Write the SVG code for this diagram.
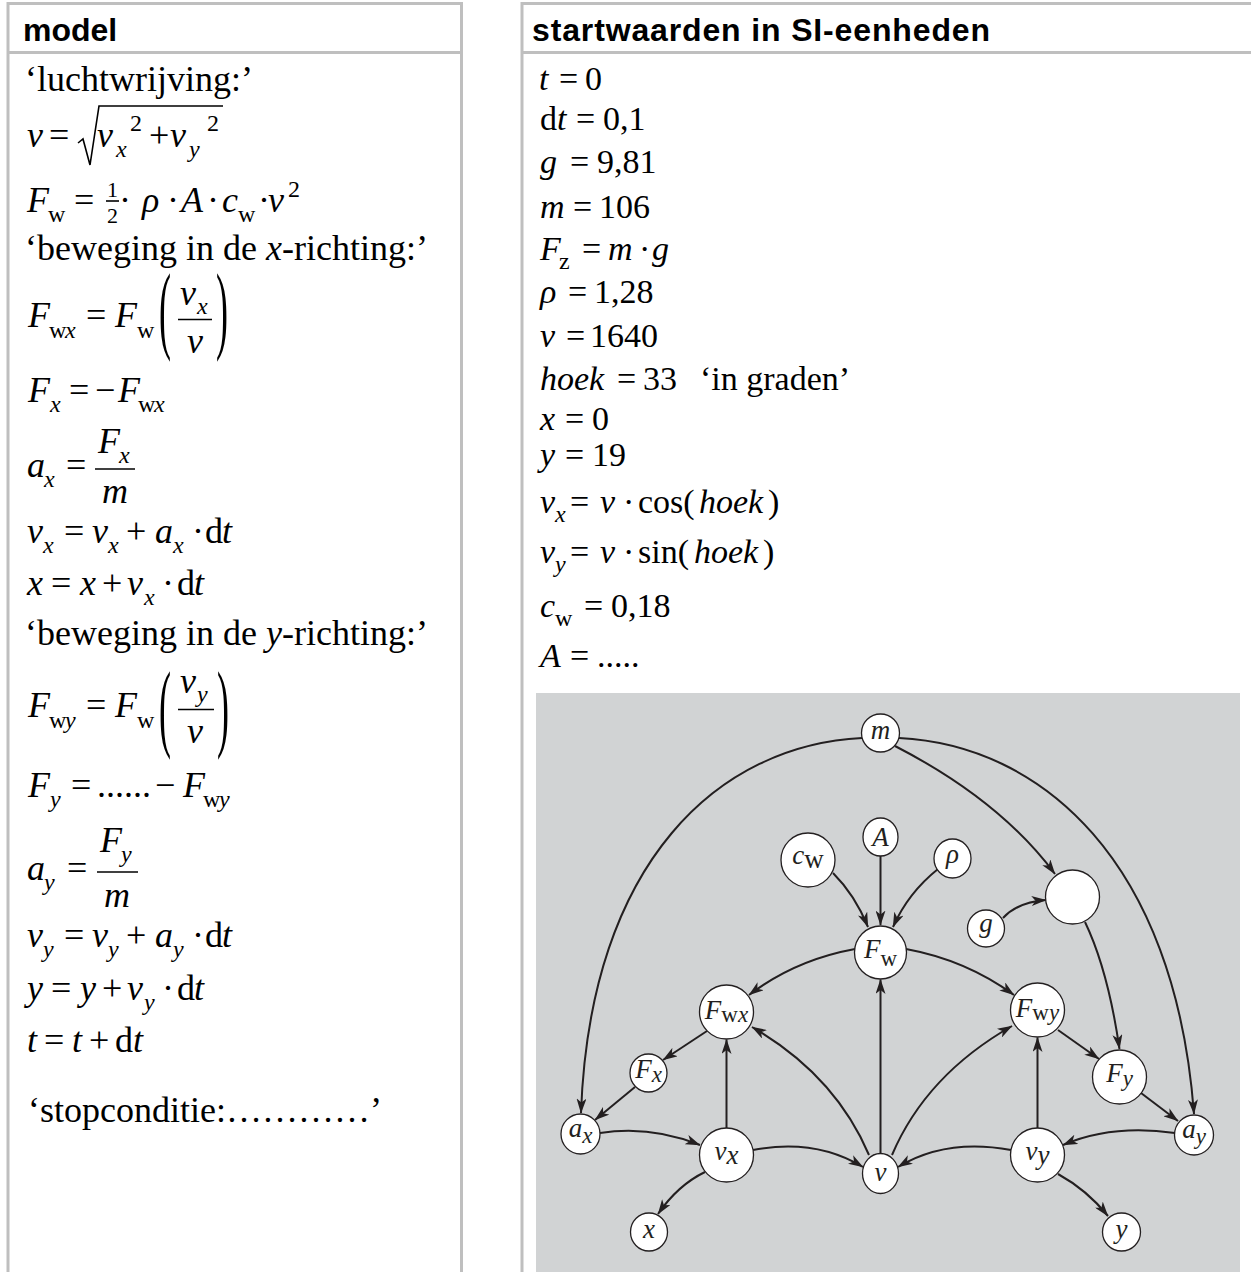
<svg xmlns="http://www.w3.org/2000/svg" width="1251" height="1272" viewBox="0 0 1251 1272">
<defs>
<style>
.bd{stroke:#bfbfbf;stroke-width:3;fill:none}
.hd{font-family:"Liberation Sans",Arial,sans-serif;font-weight:bold;font-size:32px;fill:#000}
.t{font-family:"Liberation Serif","Times New Roman",serif;font-size:36px;fill:#000}
.r{font-family:"Liberation Serif","Times New Roman",serif;font-size:34px;fill:#000}
.i{font-style:italic}
.s{font-size:24px}
.f{font-size:22px}
.fr{stroke:#000;stroke-width:1.6;fill:none}
.node ellipse{fill:#fff;stroke:#231f20;stroke-width:1.3}
.lb{font-family:"Liberation Serif","Times New Roman",serif;font-size:27px;font-style:italic;text-anchor:middle;fill:#231f20}
.u{font-style:normal}
.b{font-size:23px}
.edge{fill:none;stroke:#231f20;stroke-width:2;marker-end:url(#arr)}
</style>
<marker id="arr" viewBox="0 0 15 10" refX="14.5" refY="5" markerWidth="15" markerHeight="10" markerUnits="userSpaceOnUse" orient="auto">
<path d="M0,0 L15,5 L0,10 L4,5 Z" fill="#231f20"/>
</marker>
</defs>
<rect x="0" y="0" width="1251" height="1272" fill="#fff"/>

<!-- table borders -->
<g id="table">
<path class="bd" d="M8,1272 V3.5 H461.5 V1272 M8,52.5 H461.5"/>
<path class="bd" d="M522,1272 V3.5 H1251 M522,52.5 H1251"/>
<text class="hd" x="23" y="41">model</text>
<text class="hd" x="532" y="41" textLength="458" lengthAdjust="spacing">startwaarden in SI-eenheden</text>
</g>

<!-- model column -->
<g id="model">
<text class="t" x="25" y="91">‘luchtwrijving:’</text>

<text class="t" y="147"><tspan class="i" x="27">v</tspan><tspan x="49">=</tspan><tspan class="i" x="97">v</tspan><tspan class="i s" x="116" y="157">x</tspan><tspan class="s" x="130" y="131">2</tspan><tspan x="149" y="147">+</tspan><tspan class="i" x="170">v</tspan><tspan class="i s" x="189" y="157">y</tspan><tspan class="s" x="207" y="131">2</tspan></text>
<path class="fr" d="M78,143 L83,139 L90,165 L99,106 L223,106"/>

<text class="t" y="212"><tspan class="i" x="27">F</tspan><tspan class="s" x="48" y="222">w</tspan><tspan x="74" y="212">=</tspan><tspan class="f" x="107" y="197">1</tspan><tspan class="f" x="107" y="223">2</tspan><tspan x="119" y="212">·</tspan><tspan class="i" x="142">ρ</tspan><tspan x="167">·</tspan><tspan class="i" x="181">A</tspan><tspan x="207">·</tspan><tspan class="i" x="222">c</tspan><tspan class="s" x="238" y="222">w</tspan><tspan x="258" y="212">·</tspan><tspan class="i" x="268">v</tspan><tspan class="s" x="288" y="197">2</tspan></text>
<path class="fr" d="M106,201 H119"/>

<text class="t" y="260"><tspan x="25">‘beweging in de</tspan><tspan class="i" x="266">x</tspan><tspan x="282">-richting:’</tspan></text>

<text class="t" y="327"><tspan class="i" x="28">F</tspan><tspan class="s" x="49" y="338">w</tspan><tspan class="i s" x="65" y="338">x</tspan><tspan x="86" y="327">=</tspan><tspan class="i" x="115">F</tspan><tspan class="s" x="137" y="338">w</tspan><tspan class="i" x="180" y="305">v</tspan><tspan class="i s" x="197" y="314">x</tspan><tspan class="i" x="187" y="353">v</tspan></text>
<path class="fr" d="M178,319.5 H212"/>
<text class="t" transform="translate(159,341) scale(1,2.7)">(</text>
<text class="t" transform="translate(216,341) scale(1,2.7)">)</text>

<text class="t" y="402"><tspan class="i" x="28">F</tspan><tspan class="i s" x="50" y="412">x</tspan><tspan x="69" y="402">=</tspan><tspan x="95">−</tspan><tspan class="i" x="118">F</tspan><tspan class="s" x="138" y="412">w</tspan><tspan class="i s" x="154" y="412">x</tspan></text>

<text class="t" y="477"><tspan class="i" x="27">a</tspan><tspan class="i s" x="44" y="487">x</tspan><tspan x="66" y="477">=</tspan><tspan class="i" x="98" y="453">F</tspan><tspan class="i s" x="119" y="463">x</tspan><tspan class="i" x="102" y="503">m</tspan></text>
<path class="fr" d="M95,469 H135"/>

<text class="t" y="543"><tspan class="i" x="27">v</tspan><tspan class="i s" x="43" y="553">x</tspan><tspan x="64" y="543">=</tspan><tspan class="i" x="92">v</tspan><tspan class="i s" x="108" y="553">x</tspan><tspan x="126" y="543">+</tspan><tspan class="i" x="155">a</tspan><tspan class="i s" x="173" y="553">x</tspan><tspan x="192" y="543">·</tspan><tspan x="205">d</tspan><tspan class="i" x="222">t</tspan></text>

<text class="t" y="595"><tspan class="i" x="27">x</tspan><tspan x="51">=</tspan><tspan class="i" x="80">x</tspan><tspan x="102">+</tspan><tspan class="i" x="127">v</tspan><tspan class="i s" x="144" y="605">x</tspan><tspan x="162" y="595">·</tspan><tspan x="177">d</tspan><tspan class="i" x="194">t</tspan></text>

<text class="t" y="645"><tspan x="25">‘beweging in de</tspan><tspan class="i" x="266">y</tspan><tspan x="282">-richting:’</tspan></text>

<text class="t" y="717"><tspan class="i" x="28">F</tspan><tspan class="s" x="49" y="728">w</tspan><tspan class="i s" x="65" y="728">y</tspan><tspan x="86" y="717">=</tspan><tspan class="i" x="115">F</tspan><tspan class="s" x="137" y="728">w</tspan><tspan class="i" x="180" y="693">v</tspan><tspan class="i s" x="197" y="702">y</tspan><tspan class="i" x="187" y="743">v</tspan></text>
<path class="fr" d="M178,709.5 H214"/>
<text class="t" transform="translate(159,739) scale(1,2.7)">(</text>
<text class="t" transform="translate(217,739) scale(1,2.7)">)</text>

<text class="t" y="797"><tspan class="i" x="28">F</tspan><tspan class="i s" x="50" y="807">y</tspan><tspan x="71" y="797">=</tspan><tspan x="97">......</tspan><tspan x="155">−</tspan><tspan class="i" x="183">F</tspan><tspan class="s" x="203" y="807">w</tspan><tspan class="i s" x="219" y="807">y</tspan></text>

<text class="t" y="880"><tspan class="i" x="27">a</tspan><tspan class="i s" x="44" y="890">y</tspan><tspan x="67" y="880">=</tspan><tspan class="i" x="100" y="852">F</tspan><tspan class="i s" x="121" y="862">y</tspan><tspan class="i" x="104" y="907">m</tspan></text>
<path class="fr" d="M97,872 H138"/>

<text class="t" y="947"><tspan class="i" x="27">v</tspan><tspan class="i s" x="43" y="957">y</tspan><tspan x="64" y="947">=</tspan><tspan class="i" x="92">v</tspan><tspan class="i s" x="108" y="957">y</tspan><tspan x="126" y="947">+</tspan><tspan class="i" x="155">a</tspan><tspan class="i s" x="173" y="957">y</tspan><tspan x="192" y="947">·</tspan><tspan x="205">d</tspan><tspan class="i" x="222">t</tspan></text>

<text class="t" y="1000"><tspan class="i" x="27">y</tspan><tspan x="51">=</tspan><tspan class="i" x="80">y</tspan><tspan x="102">+</tspan><tspan class="i" x="127">v</tspan><tspan class="i s" x="144" y="1010">y</tspan><tspan x="162" y="1000">·</tspan><tspan x="177">d</tspan><tspan class="i" x="194">t</tspan></text>

<text class="t" y="1052"><tspan class="i" x="27">t</tspan><tspan x="44">=</tspan><tspan class="i" x="72">t</tspan><tspan x="89">+</tspan><tspan x="115">d</tspan><tspan class="i" x="133">t</tspan></text>

<text class="t" x="28" y="1122">‘stopconditie:…………’</text>
</g>

<!-- startwaarden column -->
<g id="startwaarden">
<text class="r" y="90"><tspan class="i" x="539">t</tspan><tspan x="559">=</tspan><tspan x="585">0</tspan></text>
<text class="r" y="130"><tspan x="540">d</tspan><tspan class="i" x="557">t</tspan><tspan x="576">=</tspan><tspan x="603">0,1</tspan></text>
<text class="r" y="173"><tspan class="i" x="540">g</tspan><tspan x="570">=</tspan><tspan x="597">9,81</tspan></text>
<text class="r" y="218"><tspan class="i" x="540">m</tspan><tspan x="573">=</tspan><tspan x="599">106</tspan></text>
<text class="r" y="260"><tspan class="i" x="540">F</tspan><tspan class="s" x="559" y="269">z</tspan><tspan x="582" y="260">=</tspan><tspan class="i" x="608">m</tspan><tspan x="639">·</tspan><tspan class="i" x="652">g</tspan></text>
<text class="r" y="303"><tspan class="i" x="540">ρ</tspan><tspan x="568">=</tspan><tspan x="594">1,28</tspan></text>
<text class="r" y="347"><tspan class="i" x="540">v</tspan><tspan x="566">=</tspan><tspan x="590">1640</tspan></text>
<text class="r" y="390"><tspan class="i" x="540">hoek</tspan><tspan x="617">=</tspan><tspan x="643">33</tspan><tspan x="700">‘in graden’</tspan></text>
<text class="r" y="430"><tspan class="i" x="540">x</tspan><tspan x="565">=</tspan><tspan x="592">0</tspan></text>
<text class="r" y="466"><tspan class="i" x="540">y</tspan><tspan x="565">=</tspan><tspan x="592">19</tspan></text>
<text class="r" y="513"><tspan class="i" x="540">v</tspan><tspan class="i s" x="555" y="522">x</tspan><tspan x="570" y="513">=</tspan><tspan class="i" x="600">v</tspan><tspan x="623">·</tspan><tspan x="638">cos(</tspan><tspan class="i" x="699">hoek</tspan><tspan x="768">)</tspan></text>
<text class="r" y="563"><tspan class="i" x="540">v</tspan><tspan class="i s" x="555" y="572">y</tspan><tspan x="570" y="563">=</tspan><tspan class="i" x="600">v</tspan><tspan x="623">·</tspan><tspan x="638">sin(</tspan><tspan class="i" x="694">hoek</tspan><tspan x="763">)</tspan></text>
<text class="r" y="617"><tspan class="i" x="540">c</tspan><tspan class="s" x="555" y="626">w</tspan><tspan x="584" y="617">=</tspan><tspan x="611">0,18</tspan></text>
<text class="r" y="667"><tspan class="i" x="540">A</tspan><tspan x="570">=</tspan><tspan x="597">.....</tspan></text>
</g>

<!-- diagram -->
<rect id="diagram-bg" x="536" y="693" width="704" height="579" fill="#d1d3d4"/>

<g id="connectors">
<path class="edge" d="M862,738 C720,745 590,860 581,1113"/>
<path class="edge" d="M899,738 C1041,745 1175,860 1194,1114"/>
<path class="edge" d="M895,746 Q1000,800 1055,874"/>
<path class="edge" d="M1003,918 Q1018,902 1046,900"/>
<path class="edge" d="M1085,922 Q1108,970 1119.5,1049"/>
<path class="edge" d="M833,873 Q855,895 868,927"/>
<path class="edge" d="M880.5,856 L880.5,925"/>
<path class="edge" d="M938,869 Q908,893 893,927"/>
<path class="edge" d="M855,949 Q795,960 749,995"/>
<path class="edge" d="M906,949 Q966,960 1014,995"/>
<path class="edge" d="M880.5,1153.5 L880.5,979.5"/>
<path class="edge" d="M869,1155 Q835,1075 752,1027"/>
<path class="edge" d="M892,1155 Q926,1075 1012,1026"/>
<path class="edge" d="M707,1031 L663,1060"/>
<path class="edge" d="M635,1087 L595,1120"/>
<path class="edge" d="M726.5,1128 L726.5,1039.5"/>
<path class="edge" d="M600,1133 Q650,1125 700,1145"/>
<path class="edge" d="M753,1150 Q815,1138 863,1167"/>
<path class="edge" d="M705,1172 Q678,1185 658,1214"/>
<path class="edge" d="M1037.5,1128 L1037.5,1037.5"/>
<path class="edge" d="M1011,1150 Q946,1138 898,1167"/>
<path class="edge" d="M1175,1133 Q1112,1124 1063,1145"/>
<path class="edge" d="M1058,1174 Q1087,1190 1108,1216"/>
<path class="edge" d="M1058,1030 L1099,1059"/>
<path class="edge" d="M1141,1093 L1178,1121"/>
</g>

<g id="node-m" class="node"><ellipse cx="880.5" cy="733" rx="19" ry="19"/><text class="lb" x="880.5" y="739">m</text></g>
<g id="node-A" class="node"><ellipse cx="880.5" cy="837" rx="17.5" ry="19"/><text class="lb" x="880.5" y="846">A</text></g>
<g id="node-cw" class="node"><ellipse cx="808" cy="860" rx="27" ry="27"/><text class="lb" x="808" y="864">c<tspan class="u" dy="4">w</tspan></text></g>
<g id="node-rho" class="node"><ellipse cx="952.5" cy="858.5" rx="18.5" ry="19.5"/><text class="lb" x="952.5" y="863">ρ</text></g>
<g id="node-Fz" class="node"><ellipse cx="1072.5" cy="897" rx="27" ry="27"/></g>
<g id="node-g" class="node"><ellipse cx="986" cy="928.5" rx="18.5" ry="18.5"/><text class="lb" x="986" y="932">g</text></g>
<g id="node-Fw" class="node"><ellipse cx="880.5" cy="952.5" rx="26" ry="26.5"/><text class="lb" x="880.5" y="958">F<tspan class="u b" dy="8">w</tspan></text></g>
<g id="node-Fwx" class="node"><ellipse cx="726.5" cy="1012" rx="27" ry="27"/><text class="lb" x="726.5" y="1019">F<tspan class="u b" dy="3">w</tspan><tspan class="b">x</tspan></text></g>
<g id="node-Fwy" class="node"><ellipse cx="1037.5" cy="1010" rx="27" ry="27"/><text class="lb" x="1037.5" y="1017">F<tspan class="u b" dy="3">w</tspan><tspan class="b">y</tspan></text></g>
<g id="node-Fx" class="node"><ellipse cx="648.5" cy="1073" rx="18.5" ry="19"/><text class="lb" x="648.5" y="1078">F<tspan class="b" dy="4">x</tspan></text></g>
<g id="node-Fy" class="node"><ellipse cx="1119.5" cy="1077" rx="27" ry="27"/><text class="lb" x="1119.5" y="1082">F<tspan class="b" dy="4">y</tspan></text></g>
<g id="node-ax" class="node"><ellipse cx="580.5" cy="1134" rx="19.5" ry="20"/><text class="lb" x="580.5" y="1137">a<tspan class="b" dy="6">x</tspan></text></g>
<g id="node-ay" class="node"><ellipse cx="1194" cy="1135" rx="19.5" ry="20"/><text class="lb" x="1194" y="1138">a<tspan class="b" dy="6">y</tspan></text></g>
<g id="node-vx" class="node"><ellipse cx="726.5" cy="1155" rx="27" ry="27"/><text class="lb" x="726.5" y="1160">v<tspan dy="4">x</tspan></text></g>
<g id="node-v" class="node"><ellipse cx="880.5" cy="1173.5" rx="18" ry="20"/><text class="lb" x="880.5" y="1181">v</text></g>
<g id="node-vy" class="node"><ellipse cx="1037.5" cy="1155" rx="27" ry="27"/><text class="lb" x="1037.5" y="1160">v<tspan dy="4">y</tspan></text></g>
<g id="node-x" class="node"><ellipse cx="649" cy="1232" rx="18.5" ry="19"/><text class="lb" x="649" y="1238">x</text></g>
<g id="node-y" class="node"><ellipse cx="1121.5" cy="1232" rx="19" ry="19"/><text class="lb" x="1121.5" y="1238">y</text></g>
</svg>
